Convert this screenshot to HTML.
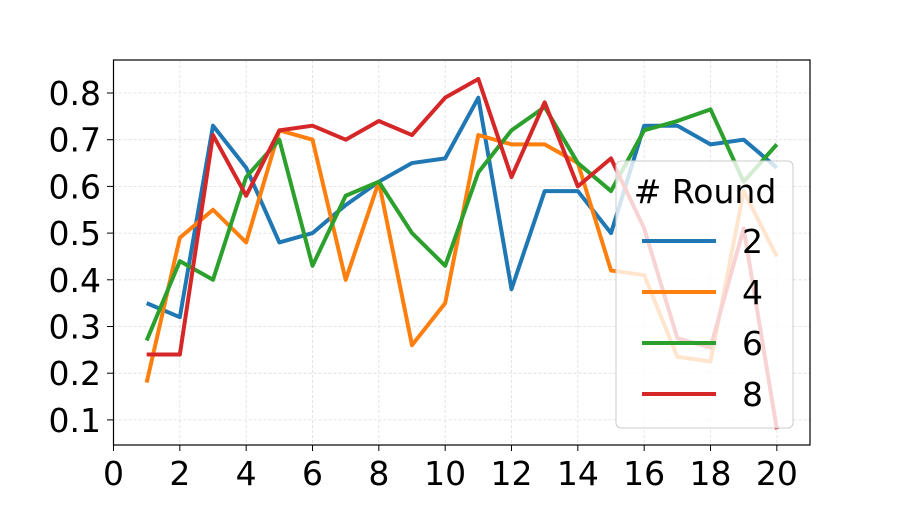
<!DOCTYPE html>
<html><head><meta charset="utf-8"><style>
body{margin:0;background:#fff;}
svg text{font-family:"DejaVu Sans","Liberation Sans",sans-serif;fill:#000;}
</style></head><body>
<svg id="chart" width="900" height="500" xmlns="http://www.w3.org/2000/svg">
<g id="grid"></g>
<g id="lines"></g>
<rect x="113.5" y="60" width="696.5" height="385" fill="none" stroke="#000" stroke-width="1.2"/>
<g id="ticks"></g>
<g id="legend"></g>
</svg>
<script>
const xValues=[1,2,3,4,5,6,7,8,9,10,11,12,13,14,15,16,17,18,19,20];
const round2=[0.35,0.32,0.73,0.64,0.48,0.50,0.56,0.61,0.65,0.66,0.79,0.38,0.59,0.59,0.50,0.73,0.73,0.69,0.70,0.64];
const round4=[0.18,0.49,0.55,0.48,0.72,0.70,0.40,0.61,0.26,0.35,0.71,0.69,0.69,0.65,0.42,0.41,0.235,0.225,0.59,0.45];
const round6=[0.27,0.44,0.40,0.62,0.70,0.43,0.58,0.61,0.50,0.43,0.63,0.72,0.77,0.65,0.59,0.72,0.74,0.765,0.61,0.69];
const round8=[0.24,0.24,0.71,0.58,0.72,0.73,0.70,0.74,0.71,0.79,0.83,0.62,0.78,0.60,0.66,0.51,0.275,0.255,0.51,0.08];
const seriesLabels=["2","4","6","8"];
const xTicks=[0,2,4,6,8,10,12,14,16,18,20];
const yTicks=[0.1,0.2,0.3,0.4,0.5,0.6,0.7,0.8];
const NS="http://www.w3.org/2000/svg";
const X=v=>113.5+v*33.167;
const Y=v=>93-(v-0.8)*467;
function mk(tag,attrs,parent){const e=document.createElementNS(NS,tag);for(const k in attrs)e.setAttribute(k,attrs[k]);parent.appendChild(e);return e;}
const grid=document.getElementById('grid'),ticks=document.getElementById('ticks'),lines=document.getElementById('lines'),legend=document.getElementById('legend');
xTicks.forEach(t=>{
  const g=mk('line',{x1:X(t),x2:X(t),y1:60,y2:445,stroke:'#ddd','stroke-width':0.8,'stroke-dasharray':'3,2'},grid);
  
  
  const tk=mk('line',{x1:X(t),x2:X(t),y1:445,y2:451,stroke:'#000','stroke-width':1},ticks);
  
  
  const tx=mk('text',{x:X(t),y:485,'text-anchor':'middle','font-size':33},ticks);tx.textContent=t;
  
  
});
yTicks.forEach(t=>{
  const g=mk('line',{x1:113.5,x2:810,y1:Y(t),y2:Y(t),stroke:'#ddd','stroke-width':0.8,'stroke-dasharray':'3,2'},grid);
  
  
  const tk=mk('line',{x1:107,x2:113.5,y1:Y(t),y2:Y(t),stroke:'#000','stroke-width':1},ticks);
  
  
  const tx=mk('text',{x:101,y:Y(t)+12,'text-anchor':'end','font-size':33},ticks);tx.textContent=t.toFixed(1);
  
  
});
const series=[round2,round4,round6,round8];
const colors=['#1f77b4','#ff7f0e','#2ca02c','#d62728'];
series.forEach((s,i)=>{
  const p=mk('polyline',{points:s.map((v,j)=>X(xValues[j])+','+Y(v)).join(' '),fill:'none',stroke:colors[i],'stroke-width':4,'stroke-linejoin':'round'},lines);
  
  
});
const box=mk('rect',{x:616,y:161,width:177,height:267,rx:5,fill:'#fff','fill-opacity':0.8,stroke:'#ccc','stroke-width':1},legend);


const title=mk('text',{x:705,y:203,'text-anchor':'middle','font-size':33},legend);title.textContent='# Round';


seriesLabels.forEach((l,i)=>{
  const y=241+i*51;
  const ln=mk('line',{x1:642,x2:716,y1:y,y2:y,stroke:colors[i],'stroke-width':4},legend);
  
  
  const tx=mk('text',{x:742,y:y+12,'font-size':33},legend);tx.textContent=l;
  
  
});
</script>
</body></html>
